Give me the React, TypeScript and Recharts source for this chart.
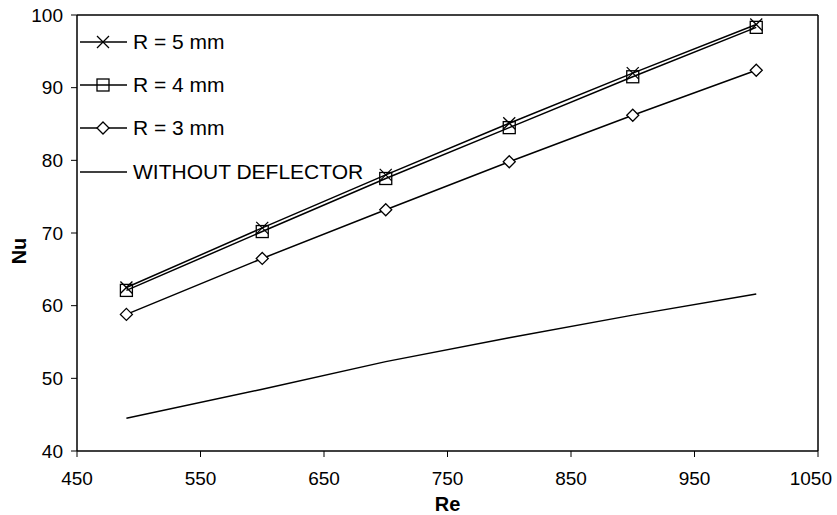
import { LineChart, Line, XAxis, YAxis, ReferenceLine, Legend } from 'recharts';

const RE = [490, 600, 700, 800, 900, 1000];
const R5 = [62.5, 70.7, 78.0, 85.1, 92.0, 98.7];
const R4 = [62.1, 70.2, 77.5, 84.5, 91.5, 98.3];
const R3 = [58.8, 66.5, 73.2, 79.8, 86.2, 92.4];
const WITHOUT = [44.5, 48.5, 52.3, 55.6, 58.7, 61.6];

const X_TICKS = [450, 550, 650, 750, 850, 950, 1050];
const Y_TICKS = [40, 50, 60, 70, 80, 90, 100];

const FONT = '"Liberation Sans", Arial, sans-serif';

const data = RE.map((re, i) => ({
  re,
  r5: R5[i],
  r4: R4[i],
  r3: R3[i],
  plain: WITHOUT[i],
}));

type Marker = 'cross' | 'square' | 'diamond' | 'none';

function MarkerShape({ type, cx, cy }: { type: Marker; cx: number; cy: number }) {
  const s = 6;
  if (type === 'cross') {
    return (
      <g stroke="#000" strokeWidth={1.3}>
        <line x1={cx - s} y1={cy - s} x2={cx + s} y2={cy + s} />
        <line x1={cx - s} y1={cy + s} x2={cx + s} y2={cy - s} />
      </g>
    );
  }
  if (type === 'square') {
    return <rect x={cx - s} y={cy - s} width={2 * s} height={2 * s} fill="none" stroke="#000" strokeWidth={1.3} />;
  }
  if (type === 'diamond') {
    return (
      <path
        d={`M${cx},${cy - s} L${cx + s},${cy} L${cx},${cy + s} L${cx - s},${cy} Z`}
        fill="#fff"
        stroke="#000"
        strokeWidth={1.3}
      />
    );
  }
  return null;
}

const SERIES: { key: string; name: string; marker: Marker }[] = [
  { key: 'r5', name: 'R = 5 mm', marker: 'cross' },
  { key: 'r4', name: 'R = 4 mm', marker: 'square' },
  { key: 'r3', name: 'R = 3 mm', marker: 'diamond' },
  { key: 'plain', name: 'WITHOUT DEFLECTOR', marker: 'none' },
];

function renderLegend() {
  return (
    <div style={{ fontFamily: FONT, fontSize: 21, color: '#000' }}>
      {SERIES.map((s) => (
        <div key={s.key} style={{ display: 'flex', alignItems: 'center', height: 43.3 }}>
          <svg width={48} height={20} style={{ marginRight: 5 }}>
            <line x1={0} y1={10} x2={47} y2={10} stroke="#000" strokeWidth={1.5} />
            <MarkerShape type={s.marker} cx={23} cy={10} />
          </svg>
          <span style={{ whiteSpace: 'nowrap' }}>{s.name}</span>
        </div>
      ))}
    </div>
  );
}

const tickStyle = { fontSize: 19, fill: '#000', fontFamily: FONT };

// last x label is pulled in so it stays inside the picture, as in the original
function XTick({ x, y, payload }: any) {
  const last = payload.value === X_TICKS[X_TICKS.length - 1];
  return (
    <text
      x={last ? 832 : x}
      y={y}
      dy="0.71em"
      textAnchor={last ? 'end' : 'middle'}
      style={tickStyle}
    >
      {payload.value}
    </text>
  );
}

export default function App() {
  return (
    <div style={{ position: 'absolute', left: 0, top: 0, background: '#fff' }}>
      <LineChart
        width={837}
        height={515}
        data={data}
        margin={{ top: 15, right: 19, left: 17, bottom: 0 }}
      >
        <XAxis
          dataKey="re"
          type="number"
          domain={[450, 1050]}
          ticks={X_TICKS}
          tick={<XTick />}
          tickSize={6}
          tickMargin={15}
          height={64}
          axisLine={{ stroke: '#000', strokeWidth: 1.5 }}
          tickLine={{ stroke: '#000' }}
          label={{
            value: 'Re',
            position: 'insideBottom',
            offset: 4,
            style: { fontSize: 20, fontWeight: 'bold', fill: '#000', fontFamily: FONT },
          }}
        />
        <YAxis
          type="number"
          domain={[40, 100]}
          ticks={Y_TICKS}
          tick={tickStyle}
          tickSize={6}
          tickMargin={8}
          width={60}
          axisLine={{ stroke: '#000', strokeWidth: 1.5 }}
          tickLine={{ stroke: '#000' }}
          label={{
            content: () => (
              <text
                x={0}
                y={0}
                transform="translate(26,251) rotate(-90)"
                textAnchor="middle"
                style={{ fontSize: 20, fontWeight: 'bold', fill: '#000', fontFamily: FONT }}
              >
                Nu
              </text>
            ),
          }}
        />
        <ReferenceLine y={100} stroke="#000" strokeWidth={1.5} />
        <ReferenceLine x={1050} stroke="#000" strokeWidth={1.5} />
        <Legend
          layout="vertical"
          align="center"
          verticalAlign="middle"
          content={renderLegend}
          wrapperStyle={{ left: 80, top: 20, width: 320 }}
        />
        {SERIES.map((s) => (
          <Line
            key={s.key}
            dataKey={s.key}
            name={s.name}
            type="linear"
            stroke="#000"
            strokeWidth={1.5}
            isAnimationActive={false}
            dot={
              s.marker === 'none'
                ? false
                : (p: any) => <MarkerShape key={`${s.key}-${p.index}`} type={s.marker} cx={p.cx} cy={p.cy} />
            }
            activeDot={false}
          />
        ))}
      </LineChart>
    </div>
  );
}
